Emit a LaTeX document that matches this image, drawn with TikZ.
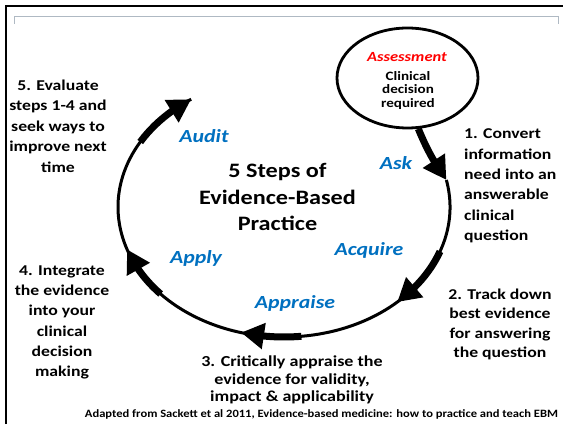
\documentclass[tikz,border=0pt]{standalone}
\usepackage{fontspec}
\setmainfont{Carlito}[FakeStretch=1.18]
\newfontfamily\notefont{Carlito}[FakeStretch=1.12]
\usetikzlibrary{arrows.meta,shapes.geometric,bending}
\definecolor{phaseblue}{RGB}{0,112,192}
\definecolor{rulegray}{RGB}{175,185,195}
\begin{document}
\begin{tikzpicture}[x=1pt,y=1pt,
  cycleline/.style={line width=3pt},
  cyclearrow/.style={line width=7pt,line cap=butt,-{Triangle[length=23pt,width=25pt]}},
  steptext/.style={font=\fontsize{15}{20.4}\selectfont\bfseries,inner sep=0pt,align=center},
  phase/.style={font=\fontsize{18.5}{20}\selectfont\bfseries\itshape,text=phaseblue,inner sep=0pt},
]
\useasboundingbox (0,0) rectangle (565,424);

% page frame
\draw[line width=2.5pt] (6.2,0) -- (6.2,417.8) -- (563,417.8);
\draw[rulegray,line width=1pt] (14,400) -- (14,407) -- (558,407) -- (558,400);

% assessment bubble
\node[ellipse,draw,line width=2.8pt,minimum width=141pt,minimum height=100pt,inner sep=0pt]
  (assess) at (407.5,346) {};
\node[font=\fontsize{14}{14}\selectfont\bfseries\itshape,text=red,inner sep=0pt]
  (assesslabel) at (407,367) {Assessment};
\node[font=\fontsize{12.8}{13.5}\selectfont\bfseries,align=center,inner sep=0pt]
  (assesstext) at (408,333.5) {Clinical\\decision\\required};

% the cycle
\coordinate (c) at (284,217);
\path (c) ++(12:166 and 130) coordinate (askend);
\draw[cycleline] (askend) arc[start angle=12,end angle=-236,x radius=166,y radius=130];
\draw[cyclearrow] (assess.-78) to[bend right=6] (askend);
\draw[cyclearrow] (c) ++(-20:166 and 130) arc[start angle=-20,end angle=-47,x radius=166,y radius=130];
\draw[cyclearrow] (c) ++(-84:166 and 130) arc[start angle=-84,end angle=-105,x radius=166,y radius=130];
\draw[cyclearrow] (c) ++(-138:166 and 130) arc[start angle=-138,end angle=-161,x radius=166,y radius=130];
\draw[cyclearrow] (c) ++(150:166 and 130) arc[start angle=150,end angle=124,x radius=166,y radius=130];

% phase labels
\node[phase] (ask) at (396,261) {Ask};
\node[phase] (acquire) at (369,174) {Acquire};
\node[phase] (appraise) at (295,121) {Appraise};
\node[phase] (apply) at (196,166) {Apply};
\node[phase] (audit) at (204,288) {Audit};

% title
\node[font=\fontsize{20.5}{26.5}\selectfont\bfseries,align=center,inner sep=0pt]
  (title) at (277.5,227) {5 Steps of\\Evidence-Based\\Practice};

% step descriptions
\node[steptext,anchor=west,align=left] (step1) at (464,238)
  {1. Convert\\information\\need into an\\answerable\\clinical\\question};
\node[steptext,font=\fontsize{15}{19.5}\selectfont\bfseries] (step2) at (500,99.5)
  {2. Track down\\best evidence\\for answering\\the question};
\node[steptext,font=\fontsize{15.3}{17.8}\selectfont\bfseries] (step3) at (292,44)
  {3. Critically appraise the\\evidence for validity,\\impact \& applicability};
\node[steptext,font=\fontsize{15}{20.2}\selectfont\bfseries] (step4) at (62,101.5)
  {4. Integrate\\the evidence\\into your\\clinical\\decision\\making};
\node[steptext,font=\fontsize{15}{20.5}\selectfont\bfseries] (step5) at (58,298)
  {5. Evaluate\\steps 1-4 and\\seek ways to\\improve next\\time};

% source
\node[font=\notefont\fontsize{11.2}{12}\selectfont\bfseries,inner sep=0pt] (source) at (321.5,10)
  {Adapted from Sackett et al 2011, Evidence-based medicine: how to practice and teach EBM};
\end{tikzpicture}
\end{document}
